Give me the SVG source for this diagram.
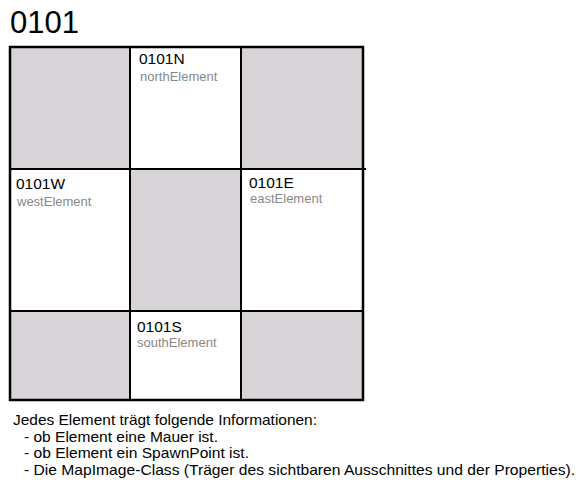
<svg xmlns="http://www.w3.org/2000/svg" width="585" height="493" viewBox="0 0 585 493">
<style>
.cell{stroke:#000;stroke-width:2}
.wall{fill:#d7d3d7}
.free{fill:#fff}
.t{font-family:"Liberation Sans",Arial,sans-serif;fill:#000}
.id{font-size:15.5px}
.sub{font-size:13px;fill:#888}
.title{font-size:31px}
.note{font-size:15px}
</style>
<rect width="585" height="493" fill="#fff"/>
<text class="t title" x="10" y="33">0101</text>
<g id="grid">
<g id="nw"><rect class="cell wall" x="10" y="47" width="120" height="122"/></g>
<g id="n"><rect class="cell free" x="130" y="47" width="111" height="122"/><text class="t id" x="139" y="64">0101N</text><text class="t sub" x="140" y="81">northElement</text></g>
<g id="ne"><rect class="cell wall" x="241" y="47" width="122" height="122"/></g>
<g id="w"><rect class="cell free" x="10" y="169" width="120" height="142"/><text class="t id" x="16" y="189">0101W</text><text class="t sub" x="17" y="206">westElement</text></g>
<g id="c"><rect class="cell wall" x="130" y="169" width="111" height="142"/></g>
<g id="e"><rect class="cell free" x="241" y="169" width="122" height="142"/><text class="t id" x="249" y="188">0101E</text><text class="t sub" x="250" y="203">eastElement</text></g>
<g id="sw"><rect class="cell wall" x="10" y="311" width="120" height="89"/></g>
<g id="s"><rect class="cell free" x="130" y="311" width="111" height="89"/><text class="t id" x="137" y="332">0101S</text><text class="t sub" x="137" y="347">southElement</text></g>
<g id="se"><rect class="cell wall" x="241" y="311" width="122" height="89"/></g>
<g id="frame">
<line x1="363" y1="169" x2="366" y2="169" stroke="#000" stroke-width="2"/>
<rect x="10" y="47" width="353" height="353" fill="none" stroke="#000" stroke-width="2.5"/>
</g>
</g>
<g id="connectors"/>
<g id="notes">
<text class="t note" x="13" y="425" textLength="304" lengthAdjust="spacingAndGlyphs">Jedes Element trägt folgende Informationen:</text>
<text class="t note" x="24" y="441.5" textLength="194" lengthAdjust="spacingAndGlyphs">- ob Element eine Mauer ist.</text>
<text class="t note" x="24" y="458" textLength="225" lengthAdjust="spacingAndGlyphs">- ob Element ein SpawnPoint ist.</text>
<text class="t note" x="24" y="474.5" textLength="551" lengthAdjust="spacingAndGlyphs">- Die MapImage-Class (Träger des sichtbaren Ausschnittes und der Properties).</text>
</g>
</svg>
